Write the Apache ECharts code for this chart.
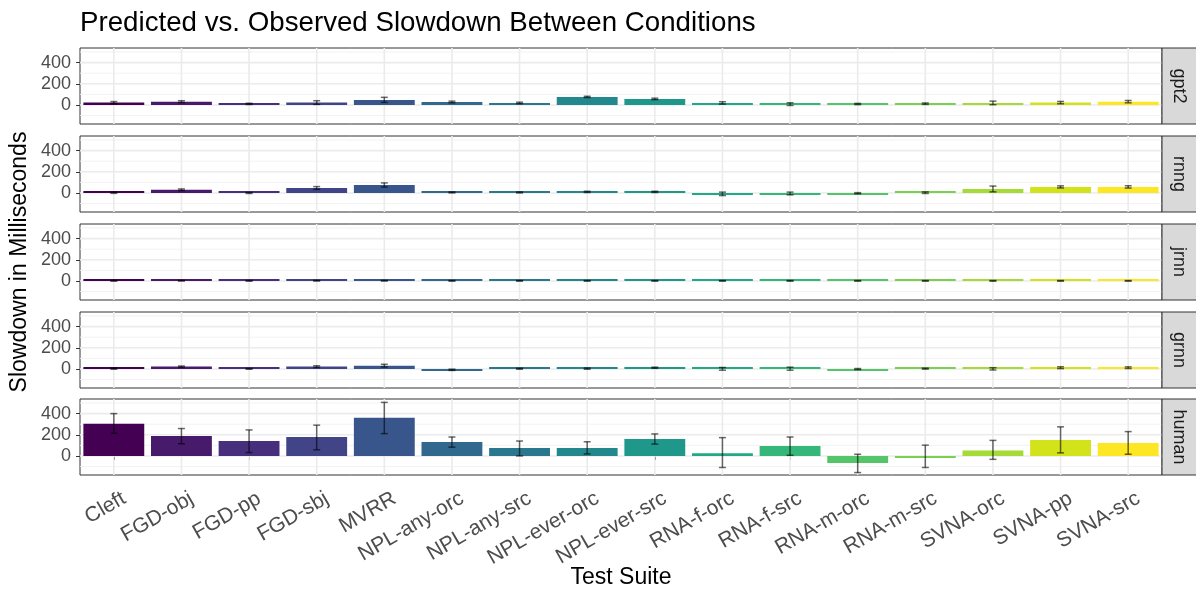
<!DOCTYPE html>
<html>
<head>
<meta charset="utf-8">
<script src="https://cdn.jsdelivr.net/npm/echarts@6/dist/echarts.min.js"></script>
<style>html,body{margin:0;padding:0;background:#fff}#chart{width:1196px;height:589px}</style>
</head>
<body>
<div id="chart"></div>
<script>
const categories = ['Cleft','FGD-obj','FGD-pp','FGD-sbj','MVRR','NPL-any-orc','NPL-any-src','NPL-ever-orc','NPL-ever-src','RNA-f-orc','RNA-f-src','RNA-m-orc','RNA-m-src','SVNA-orc','SVNA-pp','SVNA-src'];
const models = ['gpt2','rnng','jrnn','grnn','human'];

const gpt2Mean = [22, 31, 10, 22, 47, 28, 19, 76, 57, 19, 8, 9, 12, 19, 22, 31];
const gpt2Low  = [12, 22, 4, 5, 24, 20, 12, 70, 50, 8, -5, 3, 5, 2, 11, 20];
const gpt2High = [32, 40, 16, 40, 72, 36, 26, 82, 64, 30, 21, 15, 19, 36, 33, 42];

const rnngMean = [2, 31, 0, 47, 76, 5, 5, 10, 10, -8, -5, -3, 2, 38, 57, 57];
const rnngLow  = [-4, 22, -5, 34, 55, 0, 0, 4, 4, -25, -18, -8, -5, 10, 47, 46];
const rnngHigh = [8, 38, 5, 60, 95, 10, 10, 16, 16, 8, 8, 3, 10, 65, 67, 68];

const jrnnMean = [1, 2, 1, 2, 2, 1, 1, 1, 1, 1, 1, 1, 1, 1, 1, 1];
const jrnnLow  = [-2, -1, -2, -1, -1, -2, -2, -2, -2, -2, -2, -2, -2, -2, -2, -2];
const jrnnHigh = [4, 5, 4, 5, 5, 4, 4, 4, 4, 4, 4, 4, 4, 4, 4, 4];

const grnnMean = [3, 22, 1, 22, 31, -8, 2, 3, 12, 1, 2, -1, 3, 1, 12, 12];
const grnnLow  = [-3, 15, -3, 13, 18, -14, -3, -3, 6, -12, -12, -6, -2, -10, 3, 4];
const grnnHigh = [9, 28, 5, 30, 44, -2, 7, 9, 17, 14, 17, 4, 8, 12, 21, 20];

const humanMean = [304, 189, 141, 179, 362, 131, 74, 74, 160, 26, 93, -67, -3, 51, 150, 122];
const humanLow  = [214, 115, 32, 58, 211, 83, 0, 19, 112, -109, 6, -157, -109, -32, 29, 16];
const humanHigh = [400, 259, 246, 291, 506, 179, 141, 134, 208, 173, 179, 16, 102, 147, 275, 230];

const yTicks = [0, 200, 400];
const yMinorTicks = [-100, 100, 300, 500];

const viridis = ['#440154','#481A6C','#472F7D','#414487','#39568C','#31688E','#2A788E','#23888E','#1F988B','#22A884','#35B779','#54C568','#7AD151','#A5DB36','#D2E21B','#FDE725'];

const panelData = {
  gpt2: [gpt2Mean, gpt2Low, gpt2High],
  rnng: [rnngMean, rnngLow, rnngHigh],
  jrnn: [jrnnMean, jrnnLow, jrnnHigh],
  grnn: [grnnMean, grnnLow, grnnHigh],
  human: [humanMean, humanLow, humanHigh]
};

const FONT = 'Liberation Sans';
const LEFT = 80, RIGHT_EDGE = 1162, PANEL_H = 76;
const tops = [48, 136, 224, 312, 399];
const Y_MIN = -180, Y_MAX = 538;

const grids = [], xAxes = [], yAxes = [], series = [], graphics = [];

models.forEach((m, k) => {
  const isLast = k === models.length - 1;
  grids.push({left: LEFT, width: RIGHT_EDGE - LEFT, top: tops[k], height: PANEL_H,
    show: true, borderColor: '#333333', borderWidth: 1, backgroundColor: '#fff', containLabel: false});
  xAxes.push({type: 'category', gridIndex: k, data: categories, boundaryGap: true,
    axisLine: {show: false},
    axisTick: {show: isLast, alignWithLabel: true, length: 4, lineStyle: {color: '#333333', width: 1}},
    axisLabel: {show: false},
    splitLine: {show: false}});
  yAxes.push({type: 'value', gridIndex: k, min: Y_MIN, max: Y_MAX,
    axisLine: {show: false},
    axisTick: {show: true, length: 4, lineStyle: {color: '#333333', width: 1}, customValues: yTicks},
    axisLabel: {color: '#4D4D4D', fontSize: 18, fontFamily: FONT, margin: 9, customValues: yTicks},
    splitLine: {show: false}});

  const gridLines = [];
  yMinorTicks.forEach(v => gridLines.push([0, v, 0]));
  yTicks.forEach(v => gridLines.push([0, v, 1]));
  categories.forEach((c, i) => gridLines.push([i, 0, 2]));
  series.push({type: 'custom', xAxisIndex: k, yAxisIndex: k, z: 1, silent: true,
    data: gridLines,
    renderItem: (params, api) => {
      const cs = params.coordSys;
      const kind = api.value(2);
      if (kind === 2) {
        const x = api.coord([api.value(0), 0])[0];
        return {type: 'line', shape: {x1: x, y1: cs.y, x2: x, y2: cs.y + cs.height},
          style: {stroke: '#EBEBEB', lineWidth: 1.6}};
      }
      const y = api.coord([0, api.value(1)])[1];
      return {type: 'line', shape: {x1: cs.x, y1: y, x2: cs.x + cs.width, y2: y},
        style: {stroke: kind === 1 ? '#EBEBEB' : '#F0F0F0', lineWidth: kind === 1 ? 1.6 : 0.9}};
    }});

  const [mean, low, high] = panelData[m];
  series.push({type: 'bar', xAxisIndex: k, yAxisIndex: k, z: 2, barCategoryGap: '10%', barMinHeight: 2,
    data: mean.map((v, i) => ({value: v, itemStyle: {color: viridis[i]}}))});
  series.push({type: 'custom', xAxisIndex: k, yAxisIndex: k, z: 3, silent: true,
    data: mean.map((v, i) => [i, low[i], high[i]]),
    encode: {x: 0, y: [1, 2]},
    renderItem: (params, api) => {
      const i = api.value(0);
      const pLo = api.coord([i, api.value(1)]);
      const pHi = api.coord([i, api.value(2)]);
      const x = pLo[0], hw = 3.5;
      const st = {stroke: 'rgba(0,0,0,0.58)', lineWidth: 1.5};
      return {type: 'group', children: [
        {type: 'line', shape: {x1: x, y1: pLo[1], x2: x, y2: pHi[1]}, style: st},
        {type: 'line', shape: {x1: x - hw, y1: pLo[1], x2: x + hw, y2: pLo[1]}, style: st},
        {type: 'line', shape: {x1: x - hw, y1: pHi[1], x2: x + hw, y2: pHi[1]}, style: st}
      ]};
    }});

  graphics.push({type: 'rect', shape: {x: RIGHT_EDGE, y: tops[k], width: 40, height: PANEL_H},
    style: {fill: '#D9D9D9', stroke: '#333333', lineWidth: 1}, z: 10});
  graphics.push({type: 'text', x: RIGHT_EDGE + 17, y: tops[k] + PANEL_H / 2, rotation: -Math.PI / 2,
    style: {text: m, fill: '#1A1A1A', font: '18px "Liberation Sans"', align: 'center', verticalAlign: 'middle'}, z: 11});
});

// label-only axis for the bottom panel (labels slightly right of the ticks, as in ggplot hjust=1)
grids.push({left: LEFT + 5, width: RIGHT_EDGE - LEFT, top: tops[4], height: PANEL_H, show: false});
xAxes.push({type: 'category', gridIndex: 5, data: categories, boundaryGap: true,
  axisLine: {show: false}, axisTick: {show: false}, splitLine: {show: false},
  axisLabel: {show: true, rotate: 30, align: 'right', verticalAlign: 'top', color: '#4D4D4D', fontSize: 21, fontFamily: FONT, margin: 13, interval: 0}});
yAxes.push({type: 'value', gridIndex: 5, min: Y_MIN, max: Y_MAX, show: false});

graphics.push({type: 'text', x: 20, y: 262, rotation: Math.PI / 2,
  style: {text: 'Slowdown in Milliseconds', fill: '#000', font: '23px "Liberation Sans"', align: 'center', verticalAlign: 'middle'}});
graphics.push({type: 'text', x: (LEFT + RIGHT_EDGE) / 2, y: 578,
  style: {text: 'Test Suite', fill: '#000', font: '23px "Liberation Sans"', align: 'center', verticalAlign: 'middle'}});

const chart = echarts.init(document.getElementById('chart'), null, {renderer: 'canvas'});
chart.setOption({
  animation: false,
  backgroundColor: '#fff',
  title: {text: 'Predicted vs. Observed Slowdown Between Conditions', left: 75, top: 4,
    textStyle: {fontFamily: FONT, fontSize: 27.7, fontWeight: 'normal', color: '#000'}},
  grid: grids, xAxis: xAxes, yAxis: yAxes, series: series, graphic: graphics
});
</script>
</body>
</html>
